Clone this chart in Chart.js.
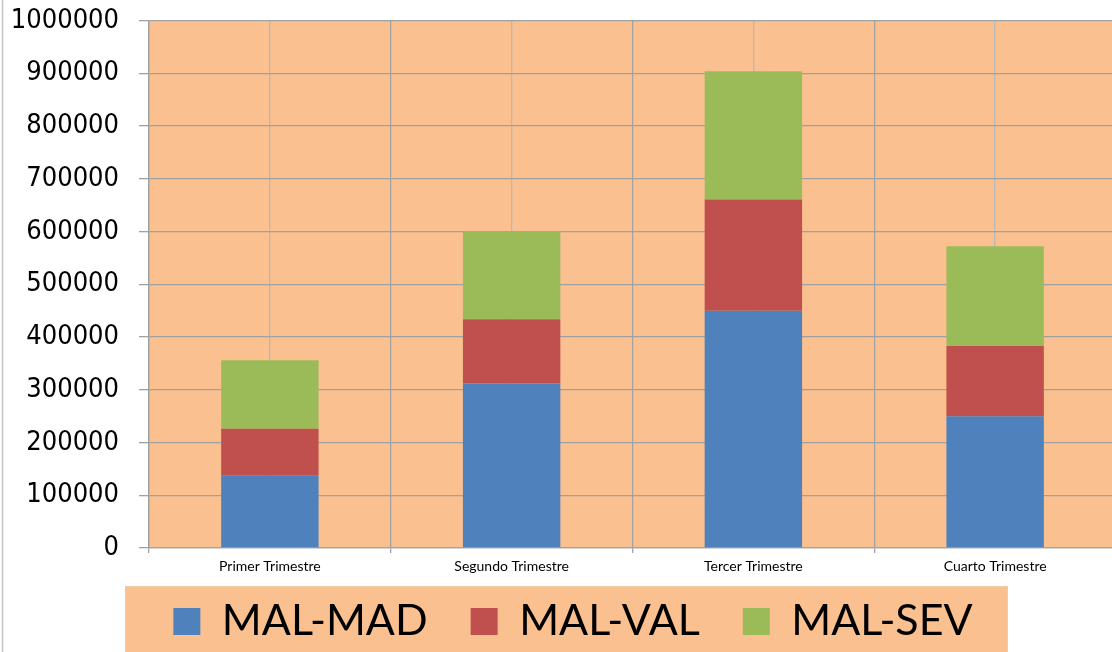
<!DOCTYPE html>
<html><head><meta charset="utf-8">
<script src="https://cdn.jsdelivr.net/npm/chart.js@4/dist/chart.umd.min.js"></script>
<style>html,body{margin:0;padding:0;background:#fff;overflow:hidden}#wrap{width:1116px;height:652px;position:relative}</style>
</head><body><div id="wrap"><canvas id="c" width="1116" height="652"></canvas></div>
<script>
const categories = ['Primer Trimestre', 'Segundo Trimestre', 'Tercer Trimestre', 'Cuarto Trimestre'];
const seriesNames = ['MAL-MAD', 'MAL-VAL', 'MAL-SEV'];
const malMad = [137000, 312000, 450000, 250000];
const malVal = [89000, 122000, 211000, 133000];
const malSev = [130000, 167000, 243000, 189000];
const yMin = 0, yMax = 1000000, yStep = 100000;

const colors = ['#4F81BD', '#C0504D', '#9BBB59'];
const PEACH = '#FAC090';

const layoutPlugin = {
  id: 'legendShift',
  afterLayout(chart) {
    const lg = chart.legend;
    lg.left += 30;
    lg.top -= 19;
  }
};

const bgPlugin = {
  id: 'bg',
  beforeDraw(chart) {
    const ctx = chart.ctx, a = chart.chartArea;
    ctx.save();
    ctx.fillStyle = '#fff';
    ctx.fillRect(0, 0, chart.width, chart.height);
    ctx.fillStyle = PEACH;
    ctx.fillRect(a.left, a.top, a.right - a.left, a.bottom - a.top);
    // legend frame
    const x0 = 125, x1 = 1008, y0 = 586;
    ctx.fillStyle = PEACH;
    ctx.fillRect(x0, y0, x1 - x0, chart.height - y0 + 5);
    ctx.strokeStyle = '#f3c9a6';
    ctx.lineWidth = 1;
    ctx.strokeRect(x0 + 0.5, y0 + 0.5, x1 - x0 - 1, chart.height - y0 + 5);
    // chart border on left
    ctx.strokeStyle = '#c4c4c4';
    ctx.lineWidth = 1.5;
    ctx.beginPath(); ctx.moveTo(2.5, 0); ctx.lineTo(2.5, chart.height); ctx.stroke();
    ctx.restore();
  }
};

new Chart(document.getElementById('c'), {
  type: 'bar',
  data: {
    labels: categories,
    datasets: [
      { label: seriesNames[0], data: malMad, backgroundColor: colors[0], borderWidth: 0 },
      { label: seriesNames[1], data: malVal, backgroundColor: colors[1], borderWidth: 0 },
      { label: seriesNames[2], data: malSev, backgroundColor: colors[2], borderWidth: 0 }
    ]
  },
  options: {
    responsive: false,
    animation: false,
    devicePixelRatio: 1,
    layout: { padding: { left: 0, top: 20, right: 0, bottom: 0 } },
    datasets: { bar: { categoryPercentage: 1.0, barPercentage: 0.403 } },
    plugins: {
      tooltip: { enabled: false },
      legend: {
        position: 'bottom',
        maxHeight: 76,
        labels: {
          boxWidth: 27, boxHeight: 27, padding: 43,
          color: '#000',
          font: { family: 'Lato, "Open Sans", sans-serif', size: 43, lineHeight: 1.0 }
        }
      }
    },
    scales: {
      x: {
        stacked: true,
        offset: true,
        grid: { offset: true, color: '#a3a3a3', lineWidth: 1.3, tickLength: 5, drawTicks: true },
        border: { display: true, color: '#a3a3a3', width: 1.3 },
        ticks: { color: '#000', padding: 5, maxRotation: 0, autoSkip: false, font: { family: 'Lato, "Open Sans", sans-serif', size: 14 } },
        afterFit: s => { s.height = 28; }
      },
      x2: {
        type: 'category',
        labels: categories,
        position: 'bottom',
        offset: true,
        grid: { offset: false, color: '#b8b8b8', lineWidth: 1.3, drawTicks: false },
        border: { display: false },
        ticks: { display: false },
        afterFit: s => { s.height = 0; }
      },
      y: {
        stacked: true,
        min: yMin, max: yMax,
        grid: { color: '#a0a0a0', lineWidth: 1.3, tickLength: 10 },
        border: { display: true, color: '#a0a0a0', width: 1.3 },
        ticks: {
          stepSize: yStep, padding: 20, color: '#000',
          font: { family: '"DejaVu Sans Condensed", "DejaVu Sans", sans-serif', size: 27, lineHeight: 0.05 },
          callback: v => String(v)
        },
        afterFit: s => { s.width = 149; }
      }
    }
  },
  plugins: [layoutPlugin, bgPlugin]
});
</script></body></html>
